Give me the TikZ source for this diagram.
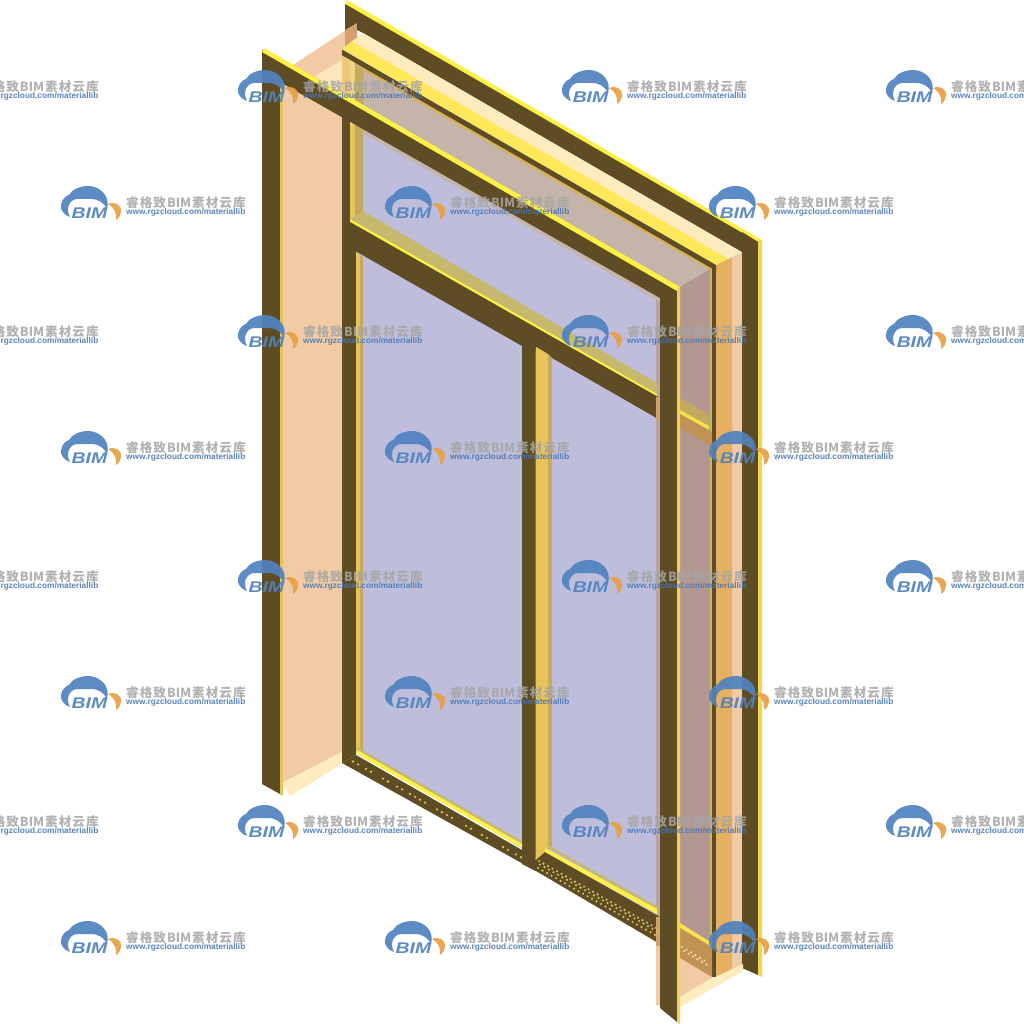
\documentclass[tikz,border=0pt]{standalone}
\usepackage{fontspec}
\setmainfont{Liberation Sans}
\newfontfamily\cjkfont{Noto Sans CJK SC}
\definecolor{darkf}{RGB}{94,77,36}
\definecolor{ybright}{RGB}{255,240,70}
\definecolor{ystrip}{RGB}{255,232,90}
\definecolor{goldf}{RGB}{232,196,88}
\definecolor{dotc}{RGB}{218,194,96}
\definecolor{khaki}{RGB}{198,184,108}
\definecolor{peachw}{RGB}{240,203,166}
\definecolor{creamw}{RGB}{255,236,190}
\definecolor{lav}{RGB}{190,190,220}
\definecolor{beige}{RGB}{196,180,170}
\definecolor{pinkg}{RGB}{181,151,146}
\definecolor{goldcol}{RGB}{230,176,96}
\definecolor{brownb}{RGB}{192,146,84}
\definecolor{wmblue}{RGB}{80,130,190}
\definecolor{wmorange}{RGB}{232,160,70}
\definecolor{wmgray}{RGB}{165,165,165}
\definecolor{wmurl}{RGB}{72,118,180}
\tikzset{
  bigtext/.style={inner sep=0pt,anchor=west,text=wmgray,text opacity=.85,font=\cjkfont\bfseries\fontsize{12.6}{13}\selectfont},
  urltext/.style={inner sep=0pt,anchor=west,text=wmurl,text opacity=.9,font=\bfseries\fontsize{8.3}{9}\selectfont},
  bimtext/.style={inner sep=0pt,text=wmblue,text opacity=.92,font=\bfseries\itshape\fontsize{15.5}{16}\selectfont},
}
\newcommand\wmark[2]{%
  \begin{scope}[shift={(#1,#2)}]
    \fill[wmblue,opacity=.92] (9,31) .. controls (3,29) and (-1,24) .. (0,19) .. controls (1,13) and (5,10) .. (8,9) .. controls (11,3) and (20,0) .. (27,0) .. controls (36,0) and (44,6) .. (46,13) .. controls (47,17) and (47,20) .. (46,23) .. controls (43,17) and (38,13) .. (30,13) -- (16,13) .. controls (11,13) and (7,18) .. (7,23) .. controls (7,27) and (8,29) .. (9,31) -- cycle;
    \fill[wmorange,opacity=.92] (47,18) .. controls (54,15) and (61,19) .. (60,26) .. controls (60,29) and (58,32) .. (55,34) .. controls (56,28) and (54,22) .. (47,18) -- cycle;
    \node[bimtext] (bim-#1-#2) at (28.5,27.5) {\scalebox{1.25}[1]{BIM}};
    \node[bigtext] (name-#1-#2) at (65,17) {睿\hspace{1pt}格\hspace{1pt}致\hspace{1pt}BIM\hspace{1pt}素\hspace{1pt}材\hspace{1pt}云\hspace{1pt}库};
    \node[urltext] (url-#1-#2) at (65,26.5) {www.rgzcloud.com/materiallib};
  \end{scope}}
\begin{document}
\begin{tikzpicture}[x=1pt,y=-1pt]
\useasboundingbox (0,0) rectangle (1024,1024);
\clip (0,0) rectangle (1024,1024);
\fill[white] (0,0) rectangle (1024,1024);
% wall behind, left
\fill[peachw] (293,65) -- (357,23) -- (357,45) -- (342,52) -- (342,752) -- (282,783) -- (282,70) -- cycle;
\fill[creamw] (282,783) -- (342,752) -- (342,764) -- (290,796) -- cycle;
\fill[creamw!85!peachw] (315,76) -- (342,60) -- (342,93) -- cycle;
% back frame corner piece
\fill[brown!55!peachw] (345,30) -- (357,23) -- (357,42) -- (345,49) -- cycle;
% back frame top bar
\fill[ybright] (347,0) -- (762,240) -- (758,243) -- (345,5) -- cycle;
\fill[darkf] (345,4) -- (758,242) -- (742,252) -- (363,33) -- (357,30) -- (357,23) -- (345,30) -- cycle;
% cream + yellow sill
\fill[creamw] (363,33) -- (741,252) -- (716,265) -- (342,49) -- cycle;
\fill[ystrip] (352,41.5) -- (728,258.6) -- (716,265) -- (342,49) -- cycle;
% right columns
\fill[peachw] (732,257) -- (742,252) -- (742,970) -- (732,975) -- cycle;
\fill[goldcol] (716,265) -- (732,257) -- (732,972) -- (716,982) -- cycle;
\fill[darkf] (742,232) -- (758,242) -- (758,975) -- (742,968) -- cycle;
\fill[goldf!60!ybright] (758,241) -- (762,240) -- (762,977) -- (758,975) -- cycle;
% floor
\fill[peachw] (656,930) -- (712,940) -- (712,978) -- (680,997) -- (680,1010) -- (656,1005) -- cycle;
\fill[creamw] (680,997) -- (713,978) -- (743,964) -- (743,971) -- (680,1007) -- cycle;
% beige upper glass
\fill[beige] (350,58) -- (712,268) -- (680,290) -- (350,105) -- cycle;
% main glass
\fill[lav] (355,100) -- (660,278) -- (660,932) -- (355,748) -- cycle;
\fill[pinkg] (680,287) -- (712,268) -- (712,945) -- (680,925) -- cycle;
\fill[pinkg!70!lav] (656,296) rectangle (661,945);
\fill[beige] (342,117.5) -- (660,298) -- (660,302) -- (342,121.5) -- cycle;
% thin dark strip of the middle frame
\fill[darkf] (342,49.5) -- (716,265) -- (716,271) -- (342,55.5) -- cycle;
\fill[goldf!70!brown] (342,55.5) -- (716,271) -- (712,271) -- (342,58) -- cycle;
\fill[darkf] (712,268) rectangle (716,977);
\fill[khaki] (709.5,270) rectangle (712,945);
% left column of the middle frame, upper part
\fill[goldf!55!peachw] (342,56) -- (350,60) -- (350,125) -- (342,120) -- cycle;
\fill[goldf!60!creamw] (350,60) -- (355,63) -- (355,220) -- (350,220) -- cycle;
\fill[khaki!75!brown] (355,63) -- (363,68) -- (363,212) -- (355,217) -- cycle;
\fill[goldf] (350,125) rectangle (355,220);
\fill[darkf] (342,117) rectangle (350,225);
% transom
\fill[khaki] (355,216) -- (363,211) -- (657,383) -- (657,395) -- (350,220) -- cycle;
\fill[ybright] (350,219) -- (657,394) -- (657,398) -- (350,223) -- cycle;
\fill[darkf] (350,222) -- (660,398) -- (660,420) -- (552,358) -- (536,347) -- (535,352) -- (522,346) -- (357,252) -- (342,262) -- (342,215) -- cycle;
% lower left column
\fill[darkf] (342,250) -- (356,252) -- (356,755) -- (342,763) -- cycle;
\fill[goldf] (356,252) -- (360,255) -- (360,752) -- (356,752) -- cycle;
\fill[khaki!75!brown] (360,255) -- (363,257) -- (363,750) -- (360,752) -- cycle;
% mullion
\fill[darkf] (522,346) -- (535.5,346) -- (535.5,871) -- (522,864) -- cycle;
\fill[goldf] (536,347) -- (548,354) -- (548,849) -- (536,865) -- cycle;
\fill[khaki!75!brown] (548,354) -- (552,358) -- (552,847) -- (548,849) -- cycle;
% bottom rails
\fill[darkf] (342,763) -- (356,755) -- (522,850) -- (536,860) -- (545,852) -- (660,917) -- (660,944) -- (536,871) -- cycle;
\fill[khaki] (357,747) -- (522,841) -- (522,844) -- (357,750) -- cycle;
\fill[ybright] (357,750) -- (522,844) -- (522,848) -- (357,754) -- cycle;
\fill[khaki] (548,845) -- (657,906) -- (657,909) -- (548,848) -- cycle;
\fill[ybright] (545,848) -- (657,909) -- (657,914) -- (545,852) -- cycle;
% mid transom seen beyond the front frame
\fill[khaki!75!brown] (680,398) -- (709,415) -- (709,426) -- (680,410) -- cycle;
\fill[ybright!70!goldf] (680,410) -- (709,426) -- (709,430) -- (680,414) -- cycle;
\fill[brownb] (680,414) -- (712,432) -- (712,447) -- (680,428) -- cycle;
\fill[brownb!70!peachw] (656,397) rectangle (661,421);
% lower rail seen beyond the front frame
\fill[ybright!70!goldf] (680,923) -- (712,943) -- (712,947) -- (680,928) -- cycle;
\fill[brownb] (680,928) -- (712,947) -- (712,977) -- (680,958) -- cycle;
\fill[brownb!70!peachw] (656,917) rectangle (661,946);
% dots on the rails
\foreach \a in {353,358,366,371,383,388,397,402,410,415,420,425,437,442,447,452,466,471,482,487,503,508,516,521}
  \fill[dotc] (\a,{761.5+.57*(\a-353)}) circle (1.3);
\foreach \a in {538,542.5,...,656}{
  \fill[dotc] (\a,{868+.571*(\a-538)}) circle (1.2);
  \fill[dotc] (\a+2,{864.5+.571*(\a-538)}) circle (1.2);
  \fill[dotc] (\a+1,{861+.571*(\a-538)}) circle (1.2);}
\foreach \a in {682,686.5,...,708}{
  \fill[creamw!70!goldf] (\a,{947+.6*(\a-682)}) circle (1.2);
  \fill[creamw!70!goldf] (\a+2,{951+.6*(\a-682)}) circle (1.2);}
% front frame
\fill[darkf] (262,50) -- (677,289) -- (677,1022) -- (660,1008) -- (660,298) -- (280,82) -- (280,794) -- (262,784) -- cycle;
\fill[ybright] (264,48) -- (680,287) -- (677,291) -- (262,52) -- cycle;
\fill[goldf!70!ybright] (677,289) -- (680,287) -- (680,1024) -- (677,1022) -- cycle;
\fill[goldf] (280,84) rectangle (282.5,795);
% watermarks
\foreach \wy in {70,315,560,805}
  \foreach \wx in {-86,238,562,886}
    {\wmark{\wx}{\wy}}
\foreach \wy in {186,431,676,921}
  \foreach \wx in {61,385,709}
    {\wmark{\wx}{\wy}}
\end{tikzpicture}
\end{document}
